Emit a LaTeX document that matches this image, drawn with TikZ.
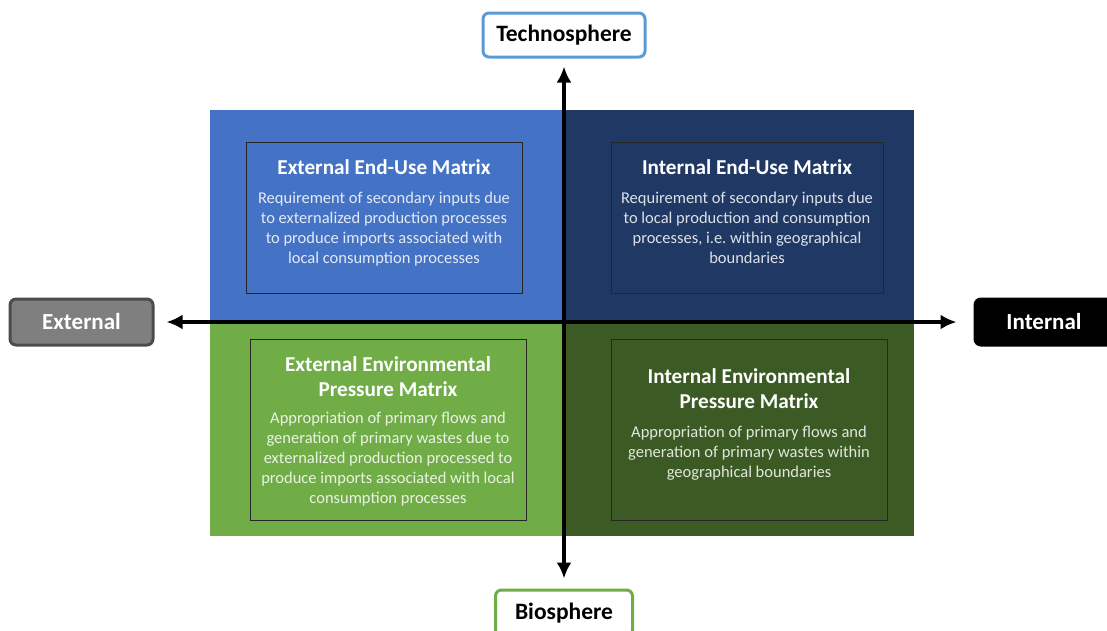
\documentclass[tikz,border=0pt]{standalone}
\usepackage{xcolor}
\usepackage{fontspec}
\setmainfont{Carlito}
\usepackage{tikz}
\usetikzlibrary{arrows.meta}
\pgfdeclarelayer{background}
\pgfsetlayers{background, main}

\definecolor{quadblue}{HTML}{4472C4}
\definecolor{quadnavy}{HTML}{203864}
\definecolor{quadgreen}{HTML}{70AD47}
\definecolor{quaddkgreen}{HTML}{3B5A24}
\definecolor{technoblue}{HTML}{5B9BD5}
\definecolor{extgray}{HTML}{7F7F7F}

\tikzstyle{matrixbox} = [draw=black!85, line width=1pt, rectangle, inner sep=0pt]
\tikzstyle{boxtitle} = [text=white, align=center, anchor=base, inner sep=0pt, font=\bfseries\fontsize{21.2}{25}\selectfont]
\tikzstyle{boxtext} = [text=white, text opacity=0.85, align=center, anchor=base, inner sep=0pt, font=\fontsize{16.5}{20}\selectfont]
\tikzstyle{sphere} = [draw, fill=white, rectangle, rounded corners=6pt, line width=3pt, minimum height=44pt, font=\bfseries\fontsize{23.5}{28}\selectfont]
\tikzstyle{side} = [draw, rectangle, rounded corners=6pt, line width=3pt, minimum height=46pt, text=white, font=\bfseries\fontsize{23}{28}\selectfont]
\tikzstyle{axis} = [line width=4pt, {Latex[length=16pt,width=15pt]}-{Latex[length=16pt,width=15pt]}]

\begin{document}
\begin{tikzpicture}[x=1pt, y=-1pt]
  \useasboundingbox (0,0) rectangle (1107,630);

  \begin{pgfonlayer}{background}
    \fill[quadblue] (210,110) rectangle (564,322);
    \fill[quadnavy] (564,110) rectangle (914,322);
    \fill[quadgreen] (210,322) rectangle (564,536);
    \fill[quaddkgreen] (564,322) rectangle (914,536);
  \end{pgfonlayer}

  % four matrices (text anchored at the base of its last line)
  \node[matrixbox, fill=quadblue, minimum width=276pt, minimum height=151pt] at (384,217.5) (eeu) {};
  \node[matrixbox, fill=quadnavy, minimum width=272pt, minimum height=151pt] at (747,217.5) (ieu) {};
  \node[matrixbox, fill=quadgreen, minimum width=276pt, minimum height=181pt] at (388,429.5) (eep) {};
  \node[matrixbox, fill=quaddkgreen, minimum width=276pt, minimum height=181pt] at (749,429.5) (iep) {};

  \node[boxtitle] at (384,174) (eeutitle) {External End-Use Matrix};
  \node[boxtext] at (384,263) (eeutext) {Requirement of secondary inputs due\\to externalized production processes\\to produce imports associated with\\local consumption processes};

  \node[boxtitle] at (747,174) (ieutitle) {Internal End-Use Matrix};
  \node[boxtext] at (747,263) (ieutext) {Requirement of secondary inputs due\\to local production and consumption\\processes, i.e.\ within geographical\\boundaries};

  \node[boxtitle] at (388,396) (eeptitle) {External Environmental\\Pressure Matrix};
  \node[boxtext] at (388,503) (eeptext) {Appropriation of primary flows and\\generation of primary wastes due to\\externalized production processed to\\produce imports associated with local\\consumption processes};

  \node[boxtitle] at (749,408) (ieptitle) {Internal Environmental\\Pressure Matrix};
  \node[boxtext] at (749,477) (ieptext) {Appropriation of primary flows and\\generation of primary wastes within\\geographical boundaries};

  % axes
  \node[sphere, draw=technoblue, minimum width=162pt] at (564,35) (techno) {Technosphere};
  \node[sphere, draw=quadgreen, minimum width=137pt, minimum height=46pt] at (564,613) (bio) {Biosphere};
  \node[side, fill=extgray, draw=black!70, minimum width=143pt] at (81.5,322) (external) {External};
  \node[side, fill=black, draw=black, minimum width=138pt] at (1044,322) (internal) {Internal};

  \draw[axis, shorten <=8pt, shorten >=10pt] (techno) -- (bio);
  \draw[axis, shorten <=12pt, shorten >=17pt] (external) -- (internal);

\end{tikzpicture}
\end{document}
